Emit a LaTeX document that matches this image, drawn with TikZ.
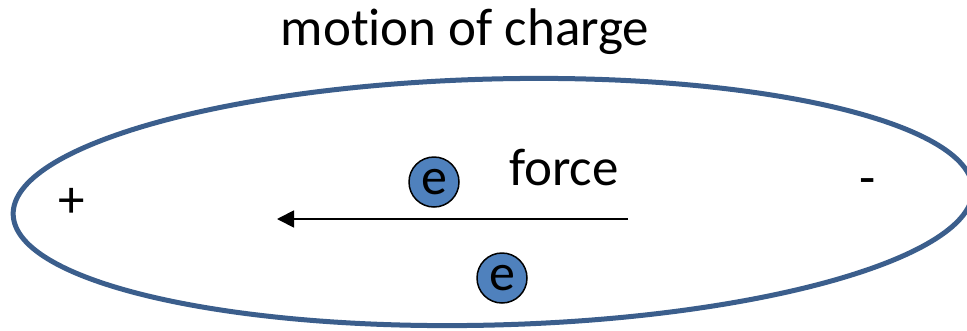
\documentclass[tikz,border=0pt]{standalone}
\usepackage{fontspec}
\setmainfont[Ligatures={NoCommon}]{Carlito}
\usetikzlibrary{arrows.meta}
\definecolor{ringblue}{HTML}{3B5E8C}
\definecolor{ballblue}{HTML}{4F81BD}
\begin{document}
\begin{tikzpicture}[x=1pt,y=-1pt,
  lbl/.style={font=\fontsize{53}{53}\selectfont, inner sep=0pt},
  ball/.style={circle, draw=black, line width=1.5pt, fill=ballblue, minimum size=50pt, inner sep=0pt, font=\fontsize{52}{52}\selectfont},
  ring/.style={draw=ringblue, line width=5pt},
  forcearrow/.style={line width=1.8pt, -{Triangle[length=17pt,width=17pt]}}]
\useasboundingbox (0,0) rectangle (967,330);
\clip (0,0) rectangle (967,330);
\fill[white] (0,0) rectangle (967,330);
\draw[ring, rotate around={1.5:(493,202)}] (493,202) ellipse [x radius=480, y radius=123];
\node[lbl, anchor=base] (title) at (465,45) {motion of charge};
\node[lbl, anchor=base] (force) at (564,185) {force};
\node[lbl] (plus) at (72,203) {+};
\node[lbl] (minus) at (868,187) {-};
\node[ball] (e1) at (434,182) {e};
\node[ball] (e2) at (502,278) {e};
\coordinate (astart) at (628,219);
\coordinate (aend) at (277,219);
\draw[forcearrow] (astart) -- (aend);
\end{tikzpicture}
\end{document}
